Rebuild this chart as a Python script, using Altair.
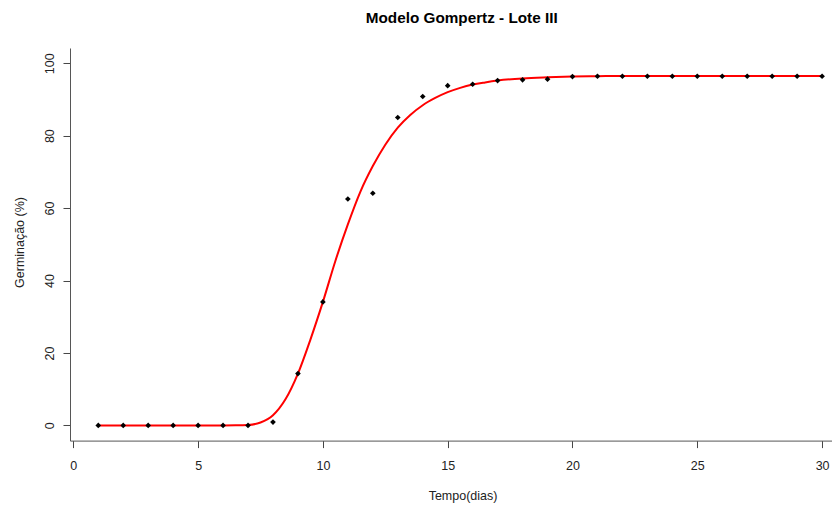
import altair as alt
import pandas as pd

# Observed germination (%) per day
days = list(range(1, 31))
germination = [0, 0, 0, 0, 0, 0, 0, 0.9, 14.3, 34.1, 62.5, 64.1, 85.0, 90.8, 93.8,
               94.2, 95.2, 95.4, 95.6, 96.3, 96.4, 96.4, 96.4, 96.4, 96.4, 96.4,
               96.4, 96.4, 96.4, 96.4]

# Fitted Gompertz curve
curve_days = [1, 2, 3, 4, 5, 6, 6.5, 7, 7.5, 8, 8.5, 9, 9.5, 10, 10.5, 11, 11.5,
              12, 12.5, 13, 13.5, 14, 14.5, 15, 15.5, 16, 16.5, 17, 18, 19, 20,
              21, 22, 23, 24, 25, 26, 27, 28, 29, 30]
curve_values = [0, 0, 0, 0, 0, 0, 0.02, 0.1, 0.8, 2.8, 7.2, 14.3, 23.7, 34.1,
                45.4, 55.5, 64.5, 71.6, 77.5, 82.2, 85.7, 88.4, 90.4, 92.0, 93.2,
                94.1, 94.7, 95.2, 95.8, 96.1, 96.3, 96.4, 96.5, 96.5, 96.5, 96.5,
                96.5, 96.5, 96.5, 96.5, 96.5]

title_text = ["Modelo Gompertz - Lote III"]
x_title = "Tempo(dias)"
y_title = "Germinação (%)"
x_ticks = [0, 5, 10, 15, 20, 25, 30]
y_ticks = [0, 20, 40, 60, 80, 100]

pts = pd.DataFrame({"dia": days, "germ": germination})
crv = pd.DataFrame({"dia": curve_days, "germ": curve_values})
ttl = pd.DataFrame({"t": title_text})

FONT = "Liberation Sans, Arial, sans-serif"
PLOT_W = 762
PLOT_H = 392.6

x_scale = alt.Scale(domain=[-0.132, 30.397], nice=False, zero=False)
y_scale = alt.Scale(domain=[-4.2, 104.2], nice=False, zero=False)

x_axis = alt.Axis(values=x_ticks, grid=False, tickSize=7, tickColor="#444",
                  domainColor="#555", labelFont=FONT, labelFontSize=12.5,
                  labelColor="#222", labelPadding=12, labelBaseline="top",
                  title=x_title, titleFont=FONT, titleFontSize=12.5,
                  titleFontWeight="normal", titleColor="#222",
                  titleX=392.5, titleY=58.7, titleBaseline="alphabetic",
                  titleAlign="center", format="d")
y_axis = alt.Axis(values=y_ticks, grid=False, tickSize=7, tickColor="#444",
                  domainColor="#555", labelFont=FONT, labelFontSize=12.5,
                  labelColor="#222", labelAngle=-90, labelAlign="center",
                  labelBaseline="alphabetic", labelPadding=9.7,
                  title=y_title, titleFont=FONT, titleFontSize=12.5,
                  titleFontWeight="normal", titleColor="#222",
                  titleX=-46.7, titleY=194, titleAngle=270,
                  titleBaseline="alphabetic", titleAlign="center", format="d")

line = alt.Chart(crv).mark_line(color="#FF0000", strokeWidth=2,
                                interpolate="monotone").encode(
    x=alt.X("dia:Q", scale=x_scale, axis=x_axis),
    y=alt.Y("germ:Q", scale=y_scale, axis=y_axis),
)

points = alt.Chart(pts).mark_point(shape="diamond", filled=True, color="black",
                                   size=32, opacity=1).encode(
    x=alt.X("dia:Q", scale=x_scale),
    y=alt.Y("germ:Q", scale=y_scale),
)

title = alt.Chart(ttl).mark_text(font=FONT, fontSize=15.3, fontWeight="bold",
                                 color="black", align="center",
                                 baseline="alphabetic").encode(
    text="t:N",
    x=alt.value(391.7),
    y=alt.value(-24.7),
)

chart = alt.layer(line, points, title).properties(
    width=PLOT_W,
    height=PLOT_H,
    background="white",
    autosize=alt.AutoSizeParams(type="none"),
    padding={"left": 62, "top": 40, "right": 0, "bottom": 65},
).configure_view(stroke=None)

chart.save("out.html", embed_options={"renderer": "svg", "actions": False})
